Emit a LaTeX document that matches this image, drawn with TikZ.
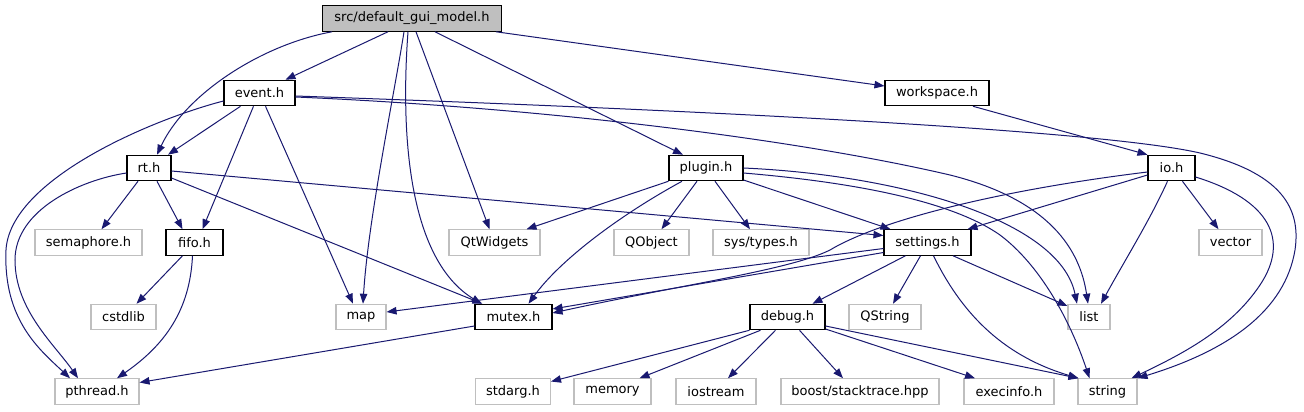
\documentclass[tikz,border=0pt]{standalone}
\usepackage{fontspec}
\setmainfont{DejaVu Sans}
\usetikzlibrary{arrows.meta,calc}
\definecolor{edgecol}{HTML}{191970}
\definecolor{undoc}{HTML}{BFBFBF}
\begin{document}
\begin{tikzpicture}[x=0.75pt,y=-0.75pt,
  doc/.style={draw=black,line width=0.8pt,fill=white,minimum height=19.1pt,inner sep=0pt,font=\fontsize{9.75}{11}\selectfont},
  undocbox/.style={doc,draw=undoc},
  mainbox/.style={doc,fill=undoc},
  bw/.style={minimum width=#1*0.75pt},
  edge/.style={draw=edgecol,line width=0.75pt,-{Triangle[length=7.5pt,width=5.6pt]}}]
\fill[white] (0,0) rectangle (1304,411);
\useasboundingbox (0,0) rectangle (1304,411);
% row 0
\node[mainbox,bw=178.5] (main) at (412,18.5) {src/default\_gui\_model.h};
% row 1
\node[doc,bw=71] (event) at (259.5,93) {event.h};
\node[doc,bw=104] (workspace) at (937,93) {workspace.h};
% row 2
\node[doc,bw=44] (rt) at (149,168) {rt.h};
\node[doc,bw=74] (plugin) at (706,168) {plugin.h};
\node[doc,bw=47] (io) at (1171.5,168) {io.h};
% row 3
\node[undocbox,bw=107] (semaphore) at (88.5,242.5) {semaphore.h};
\node[doc,bw=57] (fifo) at (194.5,242.5) {fifo.h};
\node[undocbox,bw=91] (qtwidgets) at (494.5,242.5) {QtWidgets};
\node[undocbox,bw=75] (qobject) at (651.5,242.5) {QObject};
\node[undocbox,bw=96] (systypes) at (761,242.5) {sys/types.h};
\node[doc,bw=87] (settings) at (927.5,242.5) {settings.h};
\node[undocbox,bw=63] (vector) at (1230.5,242.5) {vector};
% row 4
\node[undocbox,bw=65] (cstdlib) at (123.5,317) {cstdlib};
\node[undocbox,bw=50] (map) at (361,317) {map};
\node[doc,bw=77] (mutex) at (513.5,317) {mutex.h};
\node[doc,bw=75] (debug) at (787.5,317) {debug.h};
\node[undocbox,bw=72] (qstring) at (885,317) {QString};
\node[undocbox,bw=42] (list) at (1089,317) {list};
% row 5
\node[undocbox,bw=84] (pthread) at (97,391.5) {pthread.h};
\node[undocbox,bw=75] (stdarg) at (513,391.5) {stdarg.h};
\node[undocbox,bw=77] (memory) at (612.5,391.5) {memory};
\node[undocbox,bw=80] (iostream) at (716,391.5) {iostream};
\node[undocbox,bw=158] (boost) at (860,391.5) {boost/stacktrace.hpp};
\node[undocbox,bw=90] (execinfo) at (1009,391.5) {execinfo.h};
\node[undocbox,bw=59] (string) at (1107.5,391.5) {string};
% edges from main
\draw[edge] ($(main.south)+(-24,0)$) -- ($(event.north)+(26,0)$);
\draw[edge] ($(main.south)+(-80,0)$) .. controls (260,45) and (185,95) .. ($(rt.north)+(8,0)$);
\draw[edge] ($(main.south)+(-8,0)$) .. controls (395,90) and (368,220) .. ($(map.north)+(2,0)$);
\draw[edge] ($(main.south)+(-4,0)$) .. controls (400,140) and (410,260) .. ($(mutex.north)+(-32,0)$);
\draw[edge] ($(main.south)+(4,0)$) -- ($(qtwidgets.north)+(-5,0)$);
\draw[edge] ($(main.south)+(23,0)$) -- ($(plugin.north)+(-23,0)$);
\draw[edge] ($(main.south)+(84,0)$) -- ($(workspace.west)+(0,-7)$);
% edges from event
\draw[edge] ($(event.south)+(-19,0)$) -- ($(rt.north)+(19,0)$);
\draw[edge] ($(event.west)+(0,8)$) .. controls (150,120) and (10,180) .. (6,250) .. controls (3,320) and (40,350) .. ($(pthread.north)+(-27,0)$);
\draw[edge] ($(event.south)+(-6,0)$) -- ($(fifo.north)+(8,0)$);
\draw[edge] ($(event.south)+(6,0)$) -- ($(map.north)+(-8,0)$);
\draw[edge] ($(event.east)+(0,4)$) .. controls (550,108) and (800,140) .. (950,175) .. controls (1050,200) and (1080,250) .. ($(list.north)+(-1,0)$);
\draw[edge] ($(event.east)+(0,3)$) .. controls (700,110) and (1100,130) .. (1200,153) .. controls (1290,175) and (1300,215) .. (1295,250) .. controls (1285,310) and (1230,350) .. (string.north east);
% edges from rt
\draw[edge] ($(rt.west)+(0,5)$) .. controls (80,180) and (15,210) .. (15,260) .. controls (15,310) and (55,345) .. ($(pthread.north)+(-19,0)$);
\draw[edge] ($(rt.south)+(-11,0)$) -- ($(semaphore.north)+(13,0)$);
\draw[edge] ($(rt.south)+(8,0)$) -- ($(fifo.north)+(-12,0)$);
\draw[edge] ($(rt.east)+(0,10)$) -- ($(mutex.north)+(-31,0)$);
\draw[edge] ($(rt.east)+(0,3)$) -- ($(settings.west)+(0,-7)$);
% edges from fifo
\draw[edge] ($(fifo.south)+(-12,0)$) -- ($(cstdlib.north)+(13,0)$);
\draw[edge] ($(fifo.south)+(-2,0)$) .. controls (190,310) and (165,345) .. ($(pthread.north)+(20,0)$);
% mutex
\draw[edge] ($(mutex.west)+(0,9)$) -- ($(pthread.east)+(0,-9)$);
% plugin
\draw[edge] (plugin.south west) -- ($(qtwidgets.north)+(32,0)$);
\draw[edge] ($(plugin.south)+(-24,0)$) .. controls (620,215) and (560,260) .. ($(mutex.north)+(15,0)$);
\draw[edge] ($(plugin.south)+(-9,0)$) -- ($(qobject.north)+(10,0)$);
\draw[edge] ($(plugin.south)+(9,0)$) -- ($(systypes.north)+(-11,0)$);
\draw[edge] ($(plugin.east)+(0,12)$) -- ($(settings.north)+(-37,0)$);
\draw[edge] (plugin.east) .. controls (900,175) and (1060,220) .. ($(list.north)+(-12,0)$);
\draw[edge] ($(plugin.east)+(0,5)$) .. controls (850,182) and (950,200) .. (1000,235) .. controls (1040,265) and (1070,320) .. ($(string.north)+(-18,0)$);
% settings
\draw[edge] ($(settings.west)+(0,6)$) -- ($(map.east)+(0,-5)$);
\draw[edge] ($(settings.west)+(0,10)$) -- ($(mutex.east)+(0,-8)$);
\draw[edge] ($(settings.south)+(-22,0)$) -- ($(debug.north)+(25,0)$);
\draw[edge] ($(settings.south)+(-7,0)$) -- ($(qstring.north)+(8,0)$);
\draw[edge] ($(settings.south)+(6,0)$) .. controls (960,310) and (1000,355) .. ($(string.north)+(-29,0)$);
\draw[edge] ($(settings.south)+(25.5,0)$) -- ($(list.west)+(0,-11)$);
% io
\draw[edge] ($(io.west)+(0,7)$) -- ($(settings.north)+(40,0)$);
\draw[edge] ($(io.south)+(-4,0)$) .. controls (1150,220) and (1125,260) .. ($(list.north)+(12,0)$);
\draw[edge] ($(io.south)+(11,0)$) -- ($(vector.north)+(-12,0)$);
\draw[edge] ($(io.east)+(0,9)$) .. controls (1270,200) and (1290,240) .. (1260,285) .. controls (1230,330) and (1180,355) .. ($(string.north east)+(-6,0)$);
\draw[edge] ($(io.west)+(0,4)$) .. controls (1000,190) and (880,220) .. (830,250) .. controls (790,270) and (680,285) .. ($(mutex.east)+(0,-4)$);
% workspace
\draw[edge] ($(workspace.south)+(36,0)$) -- (io.north west);
% debug
\draw[edge] (debug.south west) -- ($(stdarg.east)+(0,-10)$);
\draw[edge] ($(debug.south)+(-27,0)$) -- ($(memory.north)+(27,0)$);
\draw[edge] ($(debug.south)+(-12,0)$) -- ($(iostream.north)+(12,0)$);
\draw[edge] ($(debug.south)+(12,0)$) -- ($(boost.north)+(-17,0)$);
\draw[edge] ($(debug.east)+(0,12)$) -- ($(execinfo.north)+(-34,0)$);
\draw[edge] ($(debug.east)+(0,9)$) -- ($(string.north)+(-29,0)$);
\end{tikzpicture}
\end{document}
